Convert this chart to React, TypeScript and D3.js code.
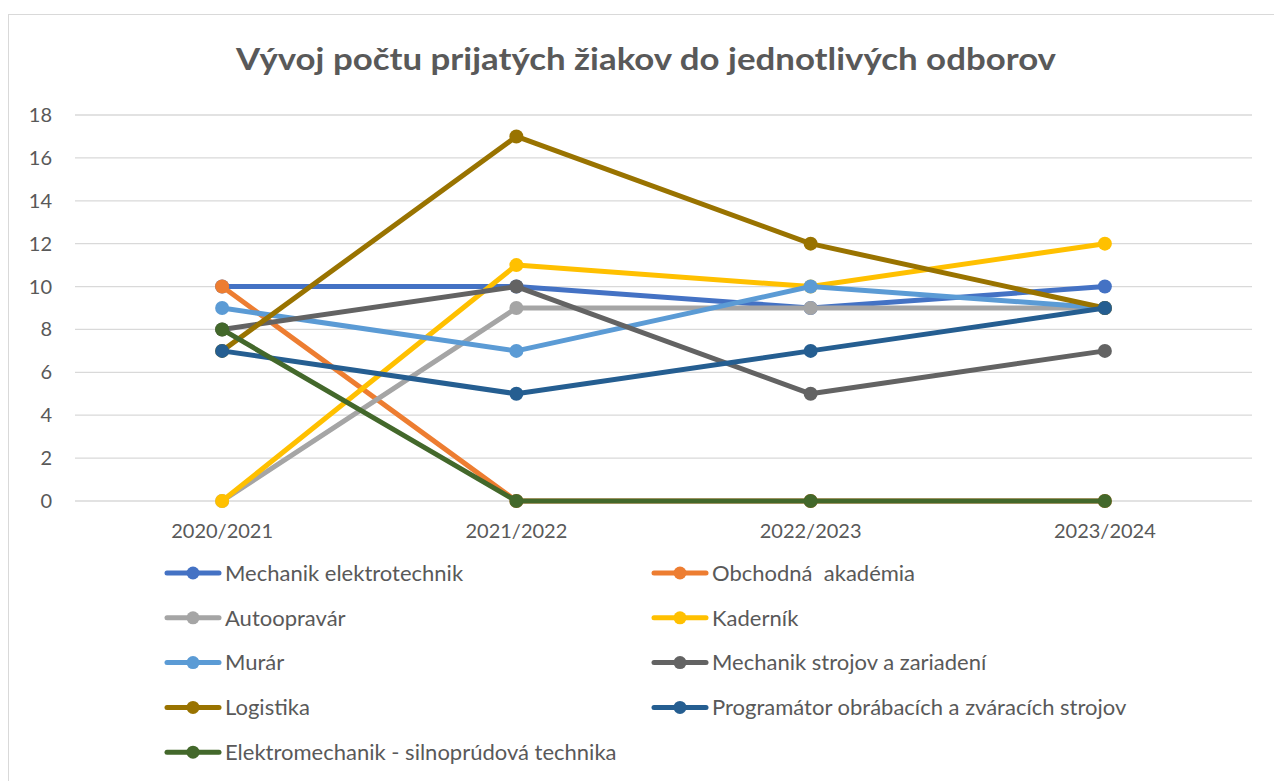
import React, { useEffect, useRef } from 'react'
import * as d3 from 'd3'

const TITLE = 'Vývoj počtu prijatých žiakov do jednotlivých odborov'
const YEARS = ['2020/2021', '2021/2022', '2022/2023', '2023/2024']
const Y_TICKS = [0, 2, 4, 6, 8, 10, 12, 14, 16, 18]

const mechanikElektro = [10, 10, 9, 10]
const obchodna = [10, 0, 0, 0]
const autoopravar = [0, 9, 9, 9]
const kadernik = [0, 11, 10, 12]
const murar = [9, 7, 10, 9]
const mechanikStrojov = [8, 10, 5, 7]
const logistika = [7, 17, 12, 9]
const programator = [7, 5, 7, 9]
const elektromechanik = [8, 0, 0, 0]

const SERIES = [
  { name: 'Mechanik elektrotechnik', values: mechanikElektro, color: '#4472c4' },
  { name: 'Obchodná  akadémia', values: obchodna, color: '#ed7d31' },
  { name: 'Autoopravár', values: autoopravar, color: '#a5a5a5' },
  { name: 'Kaderník', values: kadernik, color: '#ffc000' },
  { name: 'Murár', values: murar, color: '#5b9bd5' },
  { name: 'Mechanik strojov a zariadení', values: mechanikStrojov, color: '#636363' },
  { name: 'Logistika', values: logistika, color: '#997300' },
  { name: 'Programátor obrábacích a zváracích strojov', values: programator, color: '#255e91' },
  { name: 'Elektromechanik - silnoprúdová technika', values: elektromechanik, color: '#43682b' },
]

const FONT = 'Lato, "Open Sans", sans-serif'
const TEXT = '#595959'

export default function App() {
  const svgRef = useRef<SVGSVGElement>(null)

  useEffect(() => {
    const svg = d3.select(svgRef.current)
    svg.selectAll('*').remove()

    // chart frame
    svg.append('rect')
      .attr('x', 8.5).attr('y', 14.5)
      .attr('width', 1300).attr('height', 800)
      .attr('fill', 'white').attr('stroke', '#d9d9d9')

    svg.append('text')
      .attr('x', 646).attr('y', 70)
      .attr('text-anchor', 'middle')
      .attr('font-family', FONT).attr('font-size', 30).attr('font-weight', 700)
      .attr('fill', TEXT)
      .attr('textLength', 820).attr('lengthAdjust', 'spacingAndGlyphs')
      .text(TITLE)

    const x = d3.scaleBand().domain(YEARS).range([75, 1252])
    const y = d3.scaleLinear().domain([0, 18]).range([501, 115])
    const cx = (d: string) => (x(d) ?? 0) + x.bandwidth() / 2

    const grid = svg.append('g')
    Y_TICKS.forEach((t) => {
      grid.append('line')
        .attr('x1', 75).attr('x2', 1252)
        .attr('y1', y(t)).attr('y2', y(t))
        .attr('stroke', '#d9d9d9').attr('stroke-width', 1.3)
      grid.append('text')
        .attr('x', 52).attr('y', y(t)).attr('dy', '0.35em')
        .attr('text-anchor', 'end')
        .attr('font-family', FONT).attr('font-size', 20).attr('fill', TEXT)
        .text(t)
    })

    YEARS.forEach((yr) => {
      svg.append('text')
        .attr('x', cx(yr)).attr('y', 538)
        .attr('text-anchor', 'middle')
        .attr('font-family', FONT).attr('font-size', 20).attr('fill', TEXT)
        .text(yr)
    })

    const line = d3.line<number>()
      .x((_, i) => cx(YEARS[i]))
      .y((d) => y(d))

    SERIES.forEach((s) => {
      const g = svg.append('g')
      g.append('path')
        .attr('d', line(s.values))
        .attr('fill', 'none')
        .attr('stroke', s.color)
        .attr('stroke-width', 5)
        .attr('stroke-linejoin', 'round')
      s.values.forEach((v, i) => {
        g.append('circle')
          .attr('cx', cx(YEARS[i])).attr('cy', y(v))
          .attr('r', 7).attr('fill', s.color)
      })
    })

    // legend, two columns
    const legend = svg.append('g')
    SERIES.forEach((s, i) => {
      const col = i % 2
      const row = Math.floor(i / 2)
      const lx = col === 0 ? 165 : 652
      const ly = 573 + row * 44.8
      const item = legend.append('g').attr('transform', `translate(${lx},${ly})`)
      item.append('line')
        .attr('x1', 2).attr('x2', 54)
        .attr('stroke', s.color).attr('stroke-width', 5).attr('stroke-linecap', 'round')
      item.append('circle').attr('cx', 28).attr('r', 6.5).attr('fill', s.color)
      item.append('text')
        .attr('x', 60).attr('y', 0).attr('dy', '0.35em')
        .style('white-space', 'pre')
        .attr('font-family', FONT).attr('font-size', 22).attr('fill', TEXT)
        .text(s.name)
    })
  }, [])

  return (
    <svg ref={svgRef} width={1274} height={781}
      style={{ position: 'absolute', left: 0, top: 0, display: 'block' }} />
  )
}
